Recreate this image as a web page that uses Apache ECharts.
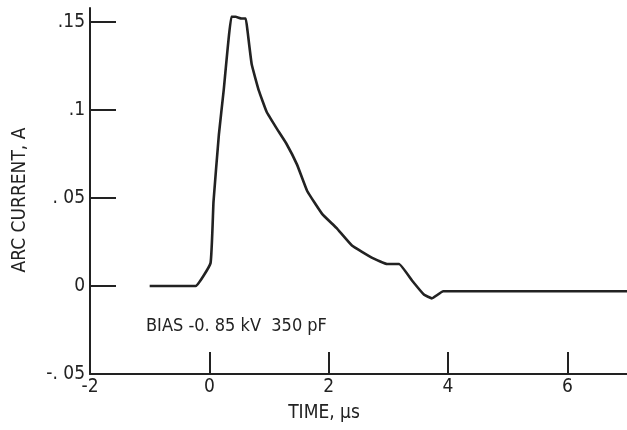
<!DOCTYPE html>
<html><head><meta charset="utf-8">
<script src="https://cdn.jsdelivr.net/npm/echarts@6/dist/echarts.min.js"></script>
<style>html,body{margin:0;padding:0;background:#fff}#c{width:627px;height:430px}</style>
</head><body><div id="c"></div>
<script>
var timeUs = [-1.0, -0.23, 0.02, 0.07, 0.16, 0.24, 0.37, 0.44, 0.54, 0.61, 0.64, 0.71, 0.83, 0.96, 1.12, 1.29, 1.47, 1.64, 1.89, 2.13, 2.39, 2.73, 2.98, 3.18, 3.4, 3.6, 3.73, 3.92, 7.0];
var currentA = [0, 0, 0.013, 0.048, 0.086, 0.111, 0.153, 0.153, 0.152, 0.152, 0.145, 0.126, 0.111, 0.099, 0.09, 0.081, 0.069, 0.054, 0.041, 0.033, 0.023, 0.016, 0.0125, 0.0125, 0.003, -0.005, -0.007, -0.003, -0.003];
var xTicks = [-2, 0, 2, 4, 6];
var xTickLabels = ['-2', '0', '2', '4', '6'];
var yTicks = [-0.05, 0, 0.05, 0.1, 0.15];
var yTickLabels = ['-. 05', '0', '. 05', '.1', '.15'];
var annotation = 'BIAS -0. 85 kV  350 pF';
var xTitle = 'TIME, µs';
var yTitle = 'ARC CURRENT, A';

var FONT = 'DejaVu Sans Condensed';
var INK = '#222';
var chart = echarts.init(document.getElementById('c'));
chart.setOption({
  animation: false,
  backgroundColor: '#fff',
  grid: {left: 90, right: 0, top: 8, bottom: 56, containLabel: false, outerBoundsMode: 'none'},
  xAxis: {
    type: 'value', min: -2, max: 7,
    axisLine: {onZero: false, lineStyle: {color: INK, width: 2}},
    axisTick: {inside: true, length: 22, lineStyle: {color: INK, width: 2}, customValues: xTicks.slice(1)},
    axisLabel: {customValues: xTicks, fontFamily: FONT, fontSize: 19, color: INK, margin: 4,
      formatter: function(v){ var i = xTicks.indexOf(v); return i >= 0 ? xTickLabels[i] : ''; }},
    splitLine: {show: false}
  },
  yAxis: {
    type: 'value', min: -0.05, max: 0.158,
    axisLine: {onZero: false, lineStyle: {color: INK, width: 2}},
    axisTick: {inside: true, length: 26, lineStyle: {color: INK, width: 2}, customValues: yTicks.slice(1)},
    axisLabel: {customValues: yTicks, fontFamily: FONT, fontSize: 19, color: INK, margin: 5,
      formatter: function(v){ for (var i=0;i<yTicks.length;i++){ if (Math.abs(yTicks[i]-v)<1e-9) return yTickLabels[i]; } return ''; }},
    splitLine: {show: false}
  },
  graphic: [{
    type: 'text', left: 146, top: 317,
    style: {text: annotation, fontFamily: FONT, fontSize: 18, fill: INK}
  }, {
    type: 'text', x: 324, y: 413,
    style: {text: xTitle, fontFamily: FONT, fontSize: 19, fill: INK, align: 'center', verticalAlign: 'middle'}
  }, {
    type: 'text', x: 20, y: 200, rotation: Math.PI / 2,
    style: {text: yTitle, fontFamily: FONT, fontSize: 19, fill: INK, align: 'center', verticalAlign: 'middle'}
  }],
  series: [{
    type: 'line', showSymbol: false, smooth: 0.1,
    data: timeUs.map(function(t, i){ return [t, currentA[i]]; }),
    lineStyle: {color: INK, width: 2.6}
  }]
});
</script></body></html>
